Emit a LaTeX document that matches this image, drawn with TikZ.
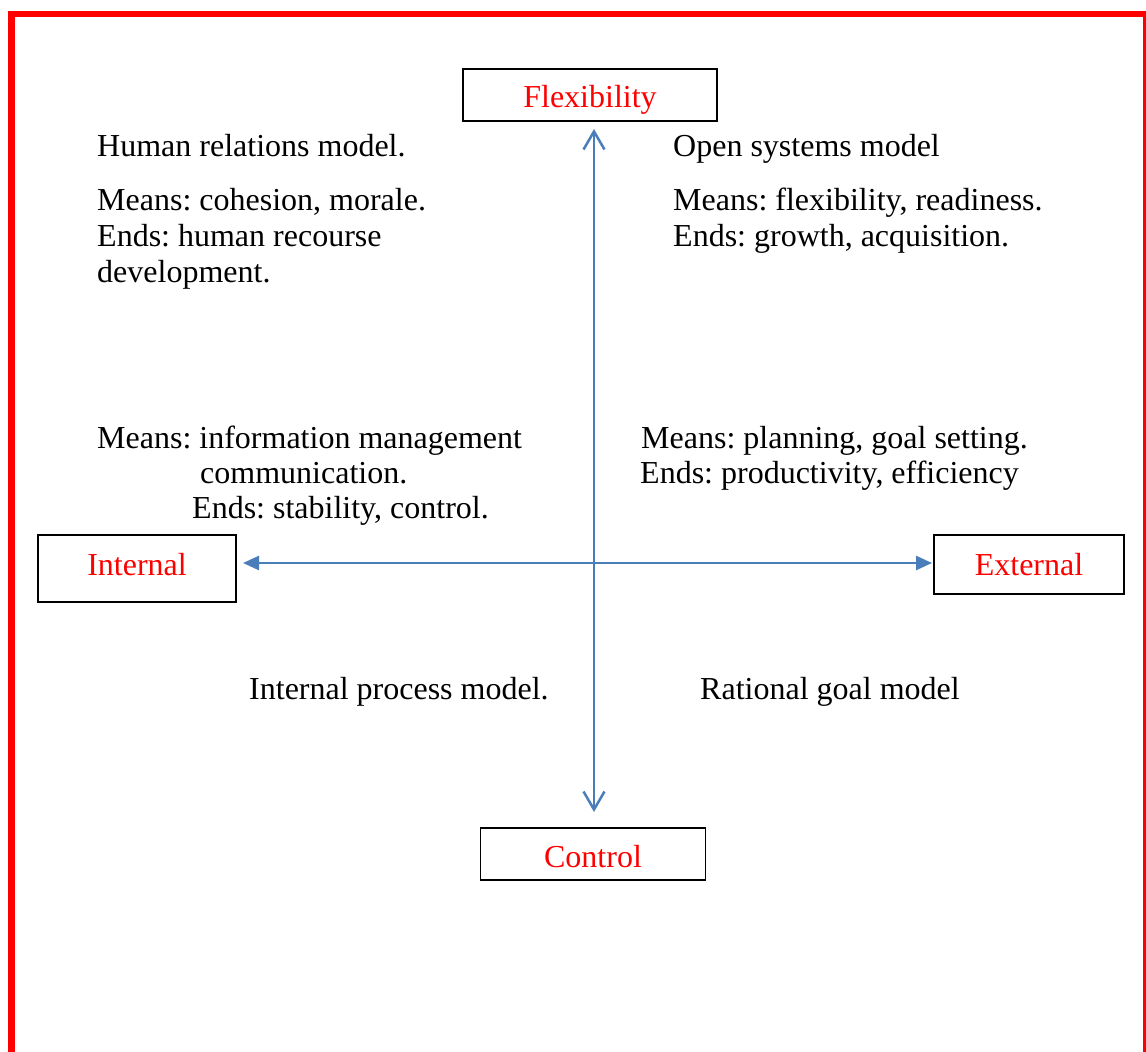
\documentclass[tikz,border=0pt]{standalone}
\usepackage{fontspec}
\setmainfont{Liberation Serif}
\frenchspacing
\usetikzlibrary{arrows.meta}
\definecolor{axisblue}{HTML}{4A7EBB}
\definecolor{framered}{HTML}{FF0000}
\begin{document}
\begin{tikzpicture}[x=1pt,y=-1pt,
  every node/.style={font=\fontsize{32}{37}\selectfont\frenchspacing},
  txt/.style={anchor=base west,inner sep=0pt,text=black},
  axisbox/.style={draw=black,line width=1.2pt,text=framered,inner xsep=0pt,inner ysep=0pt,align=center},
  axis/.style={draw=axisblue,line width=2.5pt}]
\useasboundingbox (0,0) rectangle (1146,1052);
\clip (0,0) rectangle (1146,1052);
\draw[framered,line width=6.5pt] (11.5,14) rectangle (1146.5,1070);
% boxes
\node[axisbox,minimum width=254pt,text height=38pt,text depth=14pt] (flex) at (590,95) {Flexibility};
\node[axisbox,minimum width=198pt,text height=40pt,text depth=27pt] (int) at (137,568.5) {Internal};
\node[axisbox,minimum width=190pt,text height=40pt,text depth=19pt] (ext) at (1029,564.5) {External};
\node[axisbox,minimum width=225pt,text height=39pt,text depth=13pt] (ctrl) at (593,854) {Control};
% axes
\coordinate (vt) at (594,129);
\coordinate (vb) at (594,812);
\coordinate (hl) at (243,563);
\coordinate (hr) at (932,563);
\draw[axis,{Straight Barb[length=18pt,width=21pt]}-{Straight Barb[length=18pt,width=21pt]}] (vt) -- (vb);
\draw[axis,{Triangle[length=16pt,width=14pt]}-{Triangle[length=16pt,width=14pt]}] (hl) -- (hr);
% top left
\node[txt] (hr1) at (97,156) {Human relations model.};
\node[txt] (hr2) at (97,210) {Means: cohesion, morale.};
\node[txt] (hr3) at (97,246) {Ends: human recourse};
\node[txt] (hr4) at (97,282) {development.};
% top right
\node[txt] (os1) at (673,156) {Open systems model};
\node[txt] (os2) at (673,210) {Means: flexibility, readiness.};
\node[txt] (os3) at (673,246) {Ends: growth, acquisition.};
% bottom left
\node[txt] (ip1) at (97,448) {Means: information management};
\node[txt] (ip2) at (200,483) {communication.};
\node[txt] (ip3) at (192,518) {Ends: stability, control.};
% bottom right
\node[txt] (rg1) at (641,448) {Means: planning, goal setting.};
\node[txt] (rg2) at (640,483) {Ends: productivity, efficiency};
% model labels
\node[txt] (ip0) at (249,699) {Internal process model.};
\node[txt] (rg0) at (700,699) {Rational goal model};
\end{tikzpicture}
\end{document}
